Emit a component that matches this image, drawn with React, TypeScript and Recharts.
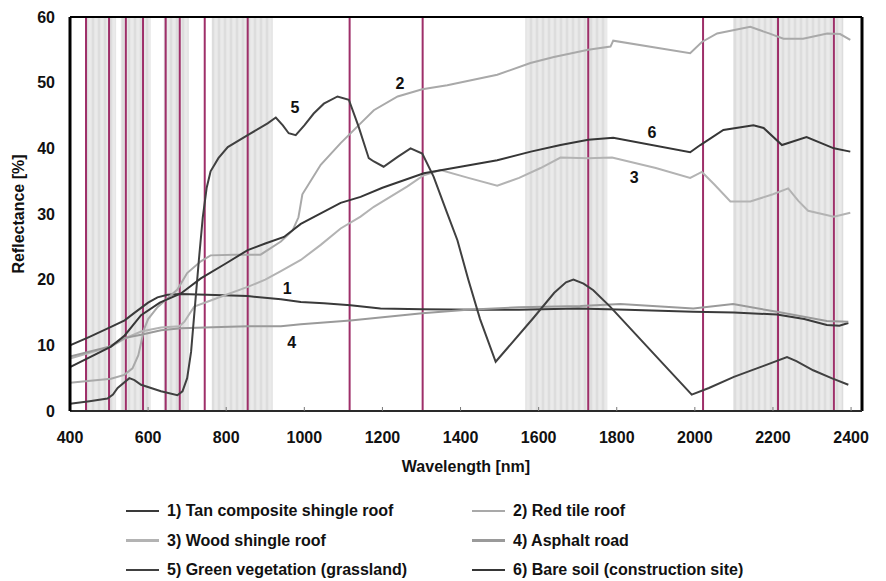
import { LineChart, Line, XAxis, YAxis, ReferenceArea, ReferenceLine, ReferenceDot } from 'recharts';

const FONT = '"Liberation Sans", Arial, sans-serif';

// 1) Tan composite shingle roof
const wlTan = [400, 450, 505, 540, 564, 600, 624, 650, 684, 750, 855, 940, 991, 1050, 1118, 1195, 1302, 1451, 1550, 1700, 1826, 1996, 2100, 2210, 2280, 2338, 2370, 2393];
const tan = [10.0, 11.3, 12.8, 13.8, 14.9, 16.5, 17.3, 17.7, 17.8, 17.7, 17.5, 17.0, 16.6, 16.4, 16.1, 15.6, 15.5, 15.4, 15.4, 15.6, 15.4, 15.1, 15.0, 14.7, 14.0, 13.1, 13.0, 13.4];

// 2) Red tile roof
const wlRed = [400, 505, 539, 560, 575, 590, 600, 624, 675, 700, 735, 760, 820, 888, 940, 970, 985, 995, 1042, 1093, 1144, 1178, 1239, 1302, 1366, 1494, 1579, 1639, 1727, 1784, 1791, 1988, 2018, 2057, 2142, 2190, 2227, 2277, 2339, 2372, 2398];
const red = [4.3, 4.9, 5.5, 6.5, 8.5, 12.5, 14.0, 15.8, 18.5, 21.0, 22.8, 23.7, 23.8, 23.8, 25.8, 27.5, 29.5, 33.0, 37.5, 40.8, 43.8, 45.8, 47.9, 49.0, 49.6, 51.2, 53.0, 53.9, 55.0, 55.5, 56.4, 54.5, 56.2, 57.5, 58.5, 57.5, 56.7, 56.7, 57.5, 57.4, 56.5];

// 3) Wood shingle roof
const wlWood = [400, 505, 539, 582, 633, 680, 693, 718, 750, 786, 855, 900, 940, 991, 1042, 1093, 1144, 1178, 1264, 1306, 1349, 1420, 1494, 1550, 1605, 1656, 1727, 1788, 1900, 1988, 2018, 2050, 2091, 2142, 2200, 2239, 2265, 2290, 2356, 2398];
const wood = [8.0, 9.8, 11.0, 12.1, 12.7, 12.9, 13.6, 15.9, 16.6, 17.4, 18.9, 20.0, 21.3, 23.0, 25.3, 27.8, 29.6, 31.1, 34.2, 35.9, 36.7, 35.5, 34.3, 35.5, 37.0, 38.6, 38.5, 38.6, 37.0, 35.5, 36.4, 34.5, 31.9, 31.9, 33.0, 33.9, 32.0, 30.5, 29.6, 30.2];

// 4) Asphalt road
const wlAsphalt = [400, 500, 539, 582, 633, 684, 786, 855, 940, 991, 1118, 1302, 1417, 1550, 1707, 1809, 1996, 2098, 2210, 2338, 2393];
const asphalt = [8.3, 9.8, 11.1, 11.6, 12.3, 12.6, 12.8, 12.9, 12.9, 13.2, 13.8, 14.9, 15.4, 15.8, 16.0, 16.3, 15.6, 16.3, 15.1, 13.7, 13.6];

// 5) Green vegetation (grassland)
const wlGrass = [400, 450, 496, 510, 522, 552, 565, 582, 633, 675, 688, 700, 710, 720, 730, 740, 750, 760, 780, 804, 855, 906, 927, 945, 960, 978, 1000, 1024, 1050, 1085, 1114, 1139, 1165, 1178, 1203, 1239, 1272, 1302, 1331, 1366, 1392, 1420, 1450, 1490, 1587, 1640, 1670, 1689, 1715, 1740, 1783, 1850, 1920, 1992, 2036, 2100, 2150, 2236, 2260, 2303, 2350, 2393];
const grass = [1.1, 1.5, 1.9, 2.5, 3.5, 5.0, 4.7, 4.0, 3.0, 2.4, 3.0, 5.0, 9.0, 16.0, 23.0, 29.5, 34.0, 36.5, 38.5, 40.2, 42.0, 43.8, 44.7, 43.5, 42.3, 42.0, 43.5, 45.3, 46.8, 47.9, 47.4, 43.3, 38.5, 38.0, 37.2, 38.7, 40.0, 39.2, 35.7, 30.1, 26.0, 20.0, 14.0, 7.5, 14.2, 18.0, 19.6, 20.0, 19.4, 18.4, 15.9, 11.6, 7.1, 2.5, 3.5, 5.2, 6.3, 8.2, 7.6, 6.2, 5.0, 4.0];

// 6) Bare soil (construction site)
const wlSoil = [400, 505, 540, 582, 630, 684, 735, 800, 855, 900, 948, 991, 1093, 1144, 1200, 1306, 1400, 1494, 1580, 1656, 1727, 1791, 1988, 2014, 2073, 2150, 2176, 2223, 2286, 2356, 2398];
const soil = [6.7, 9.8, 11.5, 14.6, 16.5, 17.9, 20.2, 22.5, 24.5, 25.5, 26.5, 28.5, 31.7, 32.6, 34.0, 36.2, 37.2, 38.2, 39.5, 40.5, 41.3, 41.6, 39.4, 40.5, 42.8, 43.5, 43.1, 40.5, 41.7, 40.0, 39.5];

const grayBands = [[441, 518], [530, 607], [640, 704], [763, 919], [1566, 1776], [2098, 2380]];
const bandLines = [441, 500, 543, 587, 645, 681, 745, 855, 1116, 1303, 1727, 2021, 2213, 2356];
const xTicks = [400, 600, 800, 1000, 1200, 1400, 1600, 1800, 2000, 2200, 2400];
const yTicks = [0, 10, 20, 30, 40, 50, 60];

const curveTags = [
  { text: '5', wl: 976, r: 46.3 },
  { text: '2', wl: 1245, r: 49.9 },
  { text: '6', wl: 1890, r: 42.5 },
  { text: '3', wl: 1845, r: 35.6 },
  { text: '1', wl: 956, r: 18.7 },
  { text: '4', wl: 968, r: 10.5 },
];

const series = [
  { name: '1) Tan composite shingle roof', wl: wlTan, v: tan, color: '#3a3a3a' },
  { name: '2) Red tile roof', wl: wlRed, v: red, color: '#a9a9a9' },
  { name: '3) Wood shingle roof', wl: wlWood, v: wood, color: '#b3b3b3' },
  { name: '4) Asphalt road', wl: wlAsphalt, v: asphalt, color: '#9a9a9a' },
  { name: '5) Green vegetation (grassland)', wl: wlGrass, v: grass, color: '#404040' },
  { name: '6) Bare soil (construction site)', wl: wlSoil, v: soil, color: '#363636' },
];

const toPoints = (w: number[], v: number[]) => w.map((x, i) => ({ x, y: v[i] }));

const tickStyle = { fontSize: 16, fontWeight: 700, fill: '#111', fontFamily: FONT };

function LegendBox() {
  return (
    <div style={{ position: 'absolute', left: 0, top: 490, width: 878, fontFamily: FONT, fontWeight: 700, fontSize: 16, color: '#111' }}>
      {series.map((s, i) => (
        <div key={s.name} style={{ position: 'absolute', left: i % 2 === 0 ? 118 : 464, top: Math.floor(i / 2) * 29.5, display: 'flex', alignItems: 'center', height: 26, whiteSpace: 'nowrap' }}>
          <span style={{ display: 'inline-block', width: 33, height: 2.5, background: s.color, marginRight: 8 }} />
          <span>{s.name}</span>
        </div>
      ))}
    </div>
  );
}

export default function App() {
  return (
    <div style={{ position: 'relative', width: 878, height: 580 }}>
      <LineChart width={878} height={470} margin={{ top: 9, right: 24, left: 0, bottom: 6 }}>
        <defs>
          <pattern id="bandStripes" patternUnits="userSpaceOnUse" width="6" height="10">
            <rect x="0" y="0" width="6" height="10" fill="#e6e6e6" />
            <rect x="0" y="0" width="2" height="10" fill="#dddddd" />
            <rect x="3.5" y="0" width="1" height="10" fill="#eeeeee" />
          </pattern>
        </defs>
        <XAxis
          type="number"
          dataKey="x"
          domain={[400, 2428]}
          ticks={xTicks}
          allowDataOverflow
          height={61}
          tick={tickStyle}
          tickSize={-4}
          tickMargin={25}
          tickLine={{ stroke: '#777' }}
          axisLine={{ stroke: '#2a2a2a', strokeWidth: 2 }}
          label={{
            content: (p: any) => {
              const vb = p.viewBox;
              return (
                <text x={vb.x + vb.width / 2} y={vb.y + 61} textAnchor="middle" style={{ ...tickStyle }}>
                  Wavelength [nm]
                </text>
              );
            },
          }}
        />
        <YAxis
          type="number"
          domain={[0, 60]}
          ticks={yTicks}
          width={62}
          tick={tickStyle}
          tickLine={false}
          tickSize={6}
          tickMargin={9}
          axisLine={{ stroke: '#000', strokeWidth: 3 }}
          label={{
            content: (p: any) => {
              const vb = p.viewBox;
              const cx = 16;
              const cy = vb.y + vb.height / 2;
              return (
                <text x={cx} y={cy} textAnchor="middle" transform={`rotate(-90 ${cx} ${cy})`} style={{ ...tickStyle }}>
                  Reflectance [%]
                </text>
              );
            },
          }}
        />
        {grayBands.map(([a, b]) => (
          <ReferenceArea key={a} x1={a} x2={b} fill="url(#bandStripes)" fillOpacity={1} stroke="none" />
        ))}
        {bandLines.map((w) => (
          <ReferenceLine key={w} x={w} stroke="#9e2f69" strokeWidth={2} />
        ))}
        <ReferenceLine y={60} stroke="#000" strokeWidth={2} />
        <ReferenceLine x={2428} stroke="#000" strokeWidth={3} />
        {series.map((s) => (
          <Line
            key={s.name}
            data={toPoints(s.wl, s.v)}
            dataKey="y"
            type="linear"
            stroke={s.color}
            strokeWidth={2}
            dot={false}
            activeDot={false}
            isAnimationActive={false}
          />
        ))}
        {curveTags.map((t) => (
          <ReferenceDot
            key={t.text}
            x={t.wl}
            y={t.r}
            r={1}
            fill="none"
            stroke="none"
            label={{ value: t.text, position: 'center', fontSize: 16, fontWeight: 700, fill: '#111', fontFamily: FONT }}
          />
        ))}
      </LineChart>
      <LegendBox />
    </div>
  );
}
